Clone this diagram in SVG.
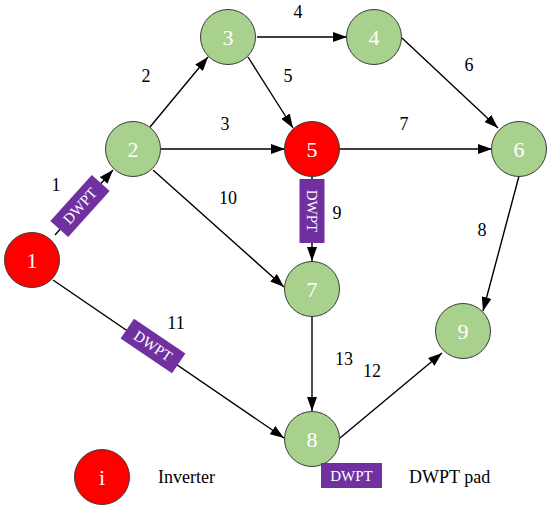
<svg xmlns="http://www.w3.org/2000/svg" width="550" height="507" viewBox="0 0 550 507">
<defs>
<marker id="arr" markerUnits="userSpaceOnUse" markerWidth="14" markerHeight="10" refX="14" refY="5" orient="auto">
<path d="M0,0 L14,5 L0,10 z" fill="#000"/>
</marker>
<style>
.edge{stroke:#000;stroke-width:1.4;fill:none;marker-end:url(#arr)}
.plain{stroke:#000;stroke-width:1.4;fill:none}
.g{fill:#A9D18E;stroke:#3a3a3a;stroke-width:1}
.r{fill:#FF0000;stroke:#3a3a3a;stroke-width:1}
.nl{font-family:"Liberation Serif","Times New Roman",serif;font-size:22px;fill:#fff;text-anchor:middle}
.el{font-family:"Liberation Serif","Times New Roman",serif;font-size:18px;fill:#000;text-anchor:middle}
.lg{font-family:"Liberation Serif","Times New Roman",serif;font-size:18px;fill:#000}
.pad{fill:#7030A0}
.pt{font-family:"Liberation Serif","Times New Roman",serif;font-size:15px;fill:#fff;text-anchor:middle}
</style>
</defs>
<rect width="550" height="507" fill="#fff"/>
<g id="connectors">
<line class="edge" x1="55" y1="235" x2="113" y2="170"/>
<line class="edge" x1="150" y1="127" x2="208" y2="57"/>
<line class="edge" x1="161" y1="149" x2="285" y2="149"/>
<line class="edge" x1="257" y1="37" x2="347" y2="37"/>
<line class="edge" x1="248" y1="57" x2="293" y2="128"/>
<line class="edge" x1="402" y1="38" x2="498" y2="128"/>
<line class="edge" x1="340" y1="149" x2="492" y2="149"/>
<line class="edge" x1="519" y1="176" x2="483" y2="311"/>
<line class="edge" x1="312" y1="177" x2="312" y2="261"/>
<line class="edge" x1="153" y1="170" x2="284" y2="287"/>
<line class="edge" x1="53" y1="280" x2="284" y2="438"/>
<line class="edge" x1="340" y1="438" x2="442" y2="353"/>
<line class="edge" x1="312" y1="316" x2="312" y2="411"/>
</g>
<g id="pads">
<g id="pad1" transform="translate(80,206) rotate(-48)">
<rect class="pad" x="-31" y="-12" width="62" height="24"/>
<text class="pt" x="0" y="5">DWPT</text>
</g>
<g id="pad9" transform="translate(312,211) rotate(90)">
<rect class="pad" x="-32" y="-12.5" width="64" height="25"/>
<text class="pt" x="0" y="5">DWPT</text>
</g>
<g id="pad11" transform="translate(153,346) rotate(34)">
<rect class="pad" x="-31" y="-12" width="62" height="24"/>
<text class="pt" x="0" y="5">DWPT</text>
</g>
</g>
<g id="edge-labels">
<text class="el" x="56" y="191">1</text>
<text class="el" x="146" y="82">2</text>
<text class="el" x="225" y="130">3</text>
<text class="el" x="298" y="18">4</text>
<text class="el" x="288" y="82">5</text>
<text class="el" x="469" y="71">6</text>
<text class="el" x="404" y="130">7</text>
<text class="el" x="482" y="236">8</text>
<text class="el" x="337" y="219">9</text>
<text class="el" x="228" y="204">10</text>
<text class="el" x="176" y="329">11</text>
<text class="el" x="372" y="377">12</text>
<text class="el" x="344" y="365">13</text>
</g>
<g id="node1"><circle class="r" cx="32" cy="260" r="27.5"/><text class="nl" x="32" y="267.5">1</text></g>
<g id="node2"><circle class="g" cx="133" cy="149" r="27.5"/><text class="nl" x="133" y="156.5">2</text></g>
<g id="node3"><circle class="g" cx="228" cy="37" r="27.5"/><text class="nl" x="228" y="44.5">3</text></g>
<g id="node4"><circle class="g" cx="374" cy="37" r="27.5"/><text class="nl" x="374" y="44.5">4</text></g>
<g id="node5"><circle class="r" cx="312" cy="149" r="27.5"/><text class="nl" x="312" y="156.5">5</text></g>
<g id="node6"><circle class="g" cx="519" cy="149" r="27.5"/><text class="nl" x="519" y="156.5">6</text></g>
<g id="node7"><circle class="g" cx="312" cy="289" r="27.5"/><text class="nl" x="312" y="296.5">7</text></g>
<g id="node8"><circle class="g" cx="312" cy="439" r="27.5"/><text class="nl" x="312" y="446.5">8</text></g>
<g id="node9"><circle class="g" cx="463" cy="331" r="27.5"/><text class="nl" x="463" y="338.5">9</text></g>
<g id="legend">
<g id="legend-inverter"><circle class="r" cx="102" cy="477" r="27.5"/><text class="nl" x="102" y="484.5">i</text>
<text class="lg" x="158" y="483">Inverter</text></g>
<g id="legend-pad"><rect class="pad" x="321" y="463" width="61" height="25"/><text class="pt" x="351.5" y="481">DWPT</text>
<text class="lg" x="409" y="483">DWPT pad</text></g>
</g>
</svg>
